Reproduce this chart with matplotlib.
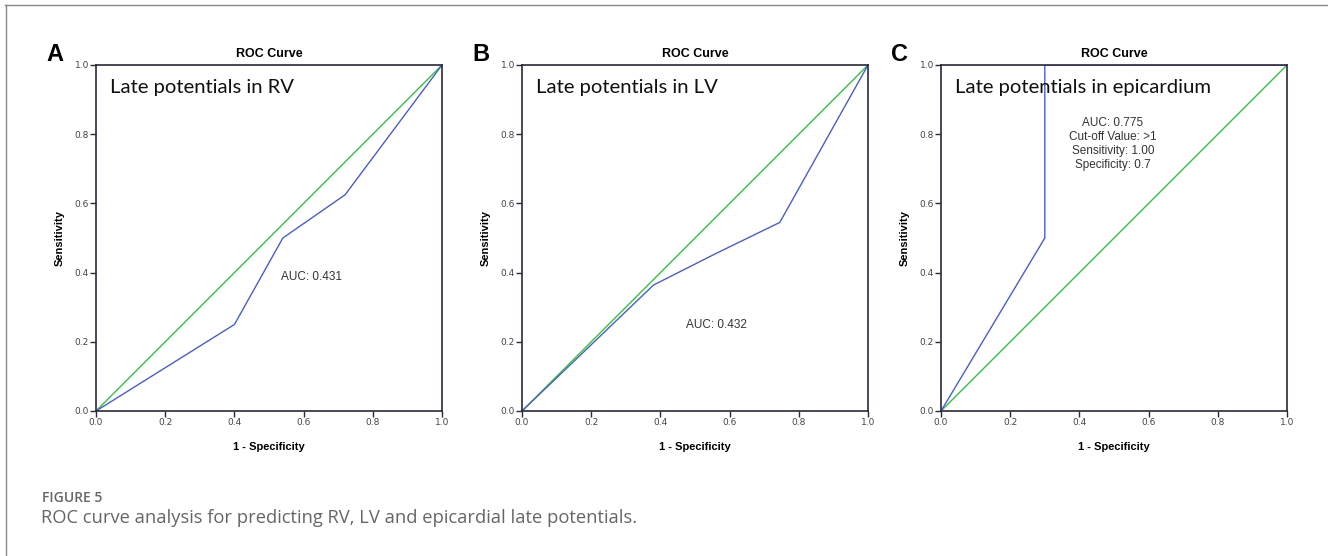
import matplotlib.pyplot as plt
from matplotlib.lines import Line2D

# ROC data
rv_fpr = [0.0, 0.40, 0.54, 0.72, 1.0]
rv_tpr = [0.0, 0.25, 0.50, 0.625, 1.0]

lv_fpr = [0.0, 0.38, 0.56, 0.745, 1.0]
lv_tpr = [0.0, 0.364, 0.455, 0.545, 1.0]

epi_fpr = [0.0, 0.30, 0.30, 1.0]
epi_tpr = [0.0, 0.50, 1.00, 1.0]

ref_line = [0.0, 1.0]
ticks = [0.0, 0.2, 0.4, 0.6, 0.8, 1.0]
tick_labels = ["0.0", "0.2", "0.4", "0.6", "0.8", "1.0"]

panels = [
    ("A", "Late potentials in RV", rv_fpr, rv_tpr, "AUC: 0.431", (0.623, 0.388)),
    ("B", "Late potentials in LV", lv_fpr, lv_tpr, "AUC: 0.432", (0.561, 0.249)),
    ("C", "Late potentials in epicardium", epi_fpr, epi_tpr,
     "AUC: 0.775\nCut-off Value: >1\nSensitivity: 1.00\nSpecificity: 0.7", (0.497, 0.772)),
]

W, H = 1328, 556
fig = plt.figure(figsize=(W / 100, H / 100), dpi=100)

lefts = [96, 522, 941]
ax_w = 346
ax_top = 65
ax_h = 346

blue = "#4a5fc1"
green = "#3dbd4a"
spine = "#2a2a3a"

for (letter, label, fpr, tpr, auc, auc_pos), left in zip(panels, lefts):
    ax = fig.add_axes([left / W, 1 - (ax_top + ax_h) / H, ax_w / W, ax_h / H])
    ax.plot(ref_line, ref_line, color=green, lw=1.0)
    ax.plot(fpr, tpr, color=blue, lw=1.0)
    ax.set_xlim(0, 1)
    ax.set_ylim(0, 1)
    ax.set_xticks(ticks)
    ax.set_xticklabels(tick_labels)
    ax.set_yticks(ticks)
    ax.set_yticklabels(tick_labels)
    ax.tick_params(direction="out", length=4, width=1, labelsize=6.5,
                   colors=spine, labelcolor="#444444", pad=1)
    for s in ax.spines.values():
        s.set_color(spine)
        s.set_linewidth(1.2)
    ax.set_title("ROC Curve", fontsize=9, fontweight="bold", pad=6,
                 family="Liberation Sans")
    ax.set_xlabel("1 - Specificity", fontsize=8, fontweight="bold", labelpad=11,
                  family="Liberation Sans")
    ax.set_ylabel("Sensitivity", fontsize=8, fontweight="bold", labelpad=7,
                  family="Liberation Sans")
    ax.text(0.04, 0.935, label, transform=ax.transAxes, fontsize=14.6,
            family="Lato", color="#111111", va="center", ha="left")
    ax.text(auc_pos[0], auc_pos[1], auc, transform=ax.transAxes, fontsize=8.5,
            family="Liberation Sans", color="#333333", ha="center", va="center",
            linespacing=1.2)
    fig.text((left - 50) / W, 1 - 54 / H, letter, fontsize=17, fontweight="bold",
             family="Liberation Sans", ha="left", va="center")

# outer frame (top and left border)
fig.add_artist(Line2D([5 / W, 1], [1 - 5 / H, 1 - 5 / H], color="#888888", lw=1.0))
fig.add_artist(Line2D([6 / W, 6 / W], [0, 1 - 5 / H], color="#888888", lw=1.0))

fig.text(42 / W, 1 - 498 / H, "FIGURE 5", fontsize=10, color="#666666",
         family="Open Sans", fontweight="semibold", va="center")
fig.text(41 / W, 1 - 518 / H,
         "ROC curve analysis for predicting RV, LV and epicardial late potentials.",
         fontsize=13.2, color="#666666", family="Open Sans", va="center")

fig.savefig("out.png", dpi=100, facecolor="white")
